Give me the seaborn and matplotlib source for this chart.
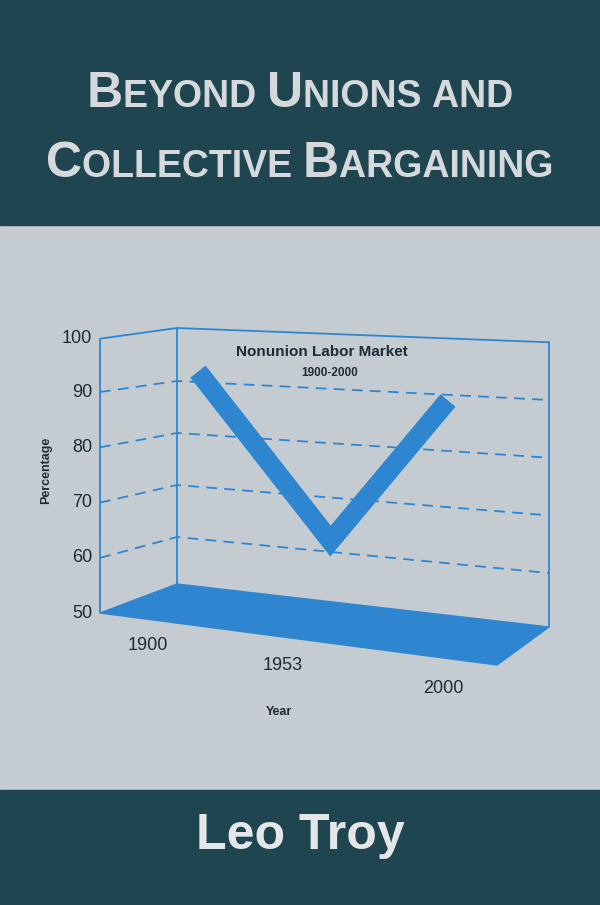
import matplotlib
matplotlib.use("Agg")
import matplotlib.pyplot as plt
import seaborn as sns
import pandas as pd
from matplotlib.patches import Polygon, Rectangle

sns.set_style("white")
plt.rcParams['font.family'] = ['Liberation Sans', 'DejaVu Sans']

years = [1900, 1953, 2000]
share = [92, 62, 89]
pct_ticks = [100, 90, 80, 70, 60, 50]
grid_levels = [90, 80, 70, 60]
year_labels = ["1900", "1953", "2000"]
title_lines = ["BEYOND UNIONS and", "COLLECTIVE BARGAINING"]
author = "Leo Troy"

DARK = "#1f4650"
BG = "#c4ccd1"
BLUE = "#2f86d0"
INK = "#1b2c36"

fig = plt.figure(figsize=(6, 9.05), dpi=100)
fig.patch.set_facecolor(BG)
ax = fig.add_axes([0, 0, 1, 1])
ax.set_xlim(0, 600); ax.set_ylim(905, 0); ax.axis("off")
ax.add_patch(Rectangle((0, 0), 600, 225, color=DARK, zorder=0))
ax.add_patch(Rectangle((0, 790), 600, 115, color=DARK, zorder=0))

XL, XR = 177, 549
def back_y(x, p):
    yl = 381 + (90 - p) * 5.2
    yr = 400 + (90 - p) * 5.77
    return yl + (yr - yl) * (x - XL) / (XR - XL)
def front_y(p):
    return 392 + (90 - p) * 5.53
def year_x(yr):
    return 198 + (yr - 1900) * 2.5

lk = dict(color=BLUE, lw=1.3, zorder=2)
ax.plot([100, 100], [front_y(100) + 2, front_y(50) - 1], **lk)
ax.plot([100, XL], [front_y(100) + 2, back_y(XL, 100) - 1], **lk)
ax.plot([XL, XL], [back_y(XL, 100) - 1, back_y(XL, 50) - 4], **lk)
ax.plot([XL, XR], [back_y(XL, 100) - 1, back_y(XR, 100)], **lk)
ax.plot([XR, XR], [back_y(XR, 100), back_y(XR, 50) - 4], **lk)

for p in grid_levels:
    ax.plot([100, XL, XR], [front_y(p), back_y(XL, p), back_y(XR, p)],
            color=BLUE, lw=1.3, ls=(0, (6, 4)), zorder=2)

ax.add_patch(Polygon([(100, 613), (XL, 584), (XR, 627), (497, 665)],
                     closed=True, color=BLUE, zorder=3))

df = pd.DataFrame({"x": [year_x(y) for y in years],
                   "y": [back_y(year_x(y), s) for y, s in zip(years, share)]})
sns.lineplot(data=df, x="x", y="y", ax=ax, color=BLUE, lw=14, sort=False, zorder=4)
ax.lines[-1].set_solid_joinstyle("miter")
ax.lines[-1].set_solid_capstyle("butt")
ax.set_xlim(0, 600); ax.set_ylim(905, 0); ax.axis("off")
ax.set_xlabel(""); ax.set_ylabel("")

for p in pct_ticks:
    ax.text(92, front_y(p) if p != 100 else 338, str(p), ha="right", va="center",
            fontsize=13, color=INK)
for lbl, (x, y) in zip(year_labels, [(148, 645), (283, 665), (443, 688)]):
    ax.text(x, y, lbl, ha="center", va="center", fontsize=13, color=INK)
ax.text(279, 712, "Year", ha="center", va="center", fontsize=9, weight="bold", color=INK)
ax.text(46, 470, "Percentage", ha="center", va="center", rotation=90, fontsize=9,
        weight="bold", color=INK)
ax.text(322, 352, "Nonunion Labor Market", ha="center", va="center", fontsize=11,
        weight="bold", color=INK)
ax.text(330, 373, "1900-2000", ha="center", va="center", fontsize=8.5,
        weight="bold", color=INK)

fig.canvas.draw()
r = fig.canvas.get_renderer()
def smallcaps(line, yc, big=36, small=27):
    pieces = []
    for w in line.split(" "):
        if w.islower():
            pieces.append((w.upper() + " ", small))
        else:
            pieces.append((w[0], big)); pieces.append((w[1:] + " ", small))
    texts = []
    for s, fs in pieces:
        t = ax.text(0, yc, s, fontsize=fs, weight="bold", color="#d6d9db",
                    va="baseline", ha="left")
        texts.append(t)
    widths = [t.get_window_extent(r).width for t in texts]
    sp = ax.text(0, 0, " ", fontsize=small, weight="bold")
    total = sum(widths) - sp.get_window_extent(r).width
    sp.remove()
    x = 300 - total / 2
    for t, w in zip(texts, widths):
        t.set_x(x); x += w
smallcaps(title_lines[0], 107)
smallcaps(title_lines[1], 177)

ax.text(300, 836, author, ha="center", va="center", fontsize=36, weight="bold",
        color="#e4e6e7")

fig.savefig("out.png", dpi=100, facecolor=BG)
